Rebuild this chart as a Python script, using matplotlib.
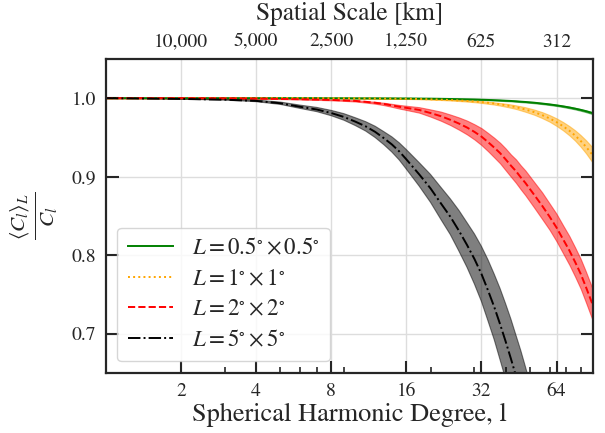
import matplotlib
matplotlib.use('Agg')
import matplotlib.pyplot as plt
import numpy as np
from matplotlib.ticker import FixedLocator, FixedFormatter, NullFormatter, NullLocator, LogLocator

plt.rcParams['font.family'] = 'STIXGeneral'
plt.rcParams['mathtext.fontset'] = 'stix'
plt.rcParams['text.color'] = '#262626'
plt.rcParams['axes.labelcolor'] = '#262626'
plt.rcParams['xtick.color'] = '#262626'
plt.rcParams['ytick.color'] = '#262626'

# spherical harmonic degrees where the curves were read
ell = [1, 2, 3, 4, 5, 6, 7, 8, 9, 10, 11, 12, 13, 14, 15, 16,
       18, 20, 22, 24, 26, 28, 30, 32, 34, 36, 38, 40, 42, 44, 46, 48,
       52, 56, 60, 64, 68, 72, 76, 80, 84, 89]

# mean ratio <C_l>_L / C_l and half-width of the shaded spread, per box size
mean_05 = [1.0, 1.0, 1.0, 1.0, 1.0, 1.0, 1.0,
           0.9999, 0.9999, 0.9998, 0.9998, 0.9998, 0.9997, 0.9997, 0.9996, 0.9996,
           0.9994, 0.9993, 0.9991, 0.9989, 0.9987, 0.9985, 0.9983, 0.998, 0.9977, 0.9974,
           0.9971, 0.9967, 0.9964, 0.996, 0.9955, 0.9951,
           0.9942, 0.9931, 0.992, 0.9908, 0.9895, 0.9881, 0.9866, 0.985, 0.9833, 0.981]
band_05 = [0, 0, 0, 0, 0, 0, 0,
           0.0001, 0.0001, 0.0001, 0.0001, 0.0001, 0.0001, 0.0001, 0.0001, 0.0001,
           0.0002, 0.0002, 0.0002, 0.0003, 0.0003, 0.0003, 0.0003, 0.0004, 0.0004, 0.0004,
           0.0005, 0.0005, 0.0005, 0.0006, 0.0006, 0.0006,
           0.0007, 0.0007, 0.0008, 0.0008, 0.0009, 0.001, 0.001, 0.0011, 0.0012, 0.0013]

mean_1 = [1.0, 1.0, 1.0, 1.0, 1.0, 1.0, 1.0,
          0.9999, 0.9998, 0.9998, 0.9997, 0.9996, 0.9995, 0.9994, 0.9993, 0.9992,
          0.9989, 0.9985, 0.9981, 0.9976, 0.997, 0.9964, 0.9957, 0.995, 0.9941, 0.9932,
          0.9921, 0.991, 0.9898, 0.9885, 0.987, 0.9855,
          0.9822, 0.9784, 0.9742, 0.9694, 0.9642, 0.9585, 0.9523, 0.9454, 0.938, 0.928]
band_1 = [0, 0, 0, 0, 0, 0, 0,
          0.0001, 0.0001, 0.0001, 0.0001, 0.0002, 0.0002, 0.0002, 0.0002, 0.0003,
          0.0003, 0.0004, 0.0005, 0.0006, 0.0007, 0.0008, 0.0009, 0.0011, 0.0013, 0.0014,
          0.0016, 0.0019, 0.0021, 0.0023, 0.0026, 0.0029,
          0.0033, 0.0038, 0.0042, 0.0048, 0.0053, 0.0059, 0.0066, 0.0074, 0.0083, 0.0095]

mean_2 = [1.0, 1.0, 0.9998, 0.9995, 0.999, 0.9986, 0.9982,
          0.9977, 0.9971, 0.9965, 0.9953, 0.9941, 0.9926, 0.9908, 0.989, 0.9876,
          0.985, 0.981, 0.977, 0.9724, 0.9676, 0.9626, 0.957, 0.951, 0.944, 0.937,
          0.930, 0.922, 0.914, 0.907, 0.899, 0.892,
          0.877, 0.863, 0.849, 0.835, 0.82, 0.806, 0.791, 0.776, 0.759, 0.738]
band_2 = [0, 0, 0.0001, 0.0001, 0.0002, 0.0003, 0.0004,
          0.0005, 0.0006, 0.0008, 0.001, 0.0012, 0.0015, 0.0019, 0.0023, 0.0027,
          0.0035, 0.0046, 0.0058, 0.0067, 0.0078, 0.0088, 0.0097, 0.0108, 0.0116, 0.0125,
          0.0131, 0.0139, 0.0142, 0.015, 0.0153, 0.0158,
          0.0163, 0.017, 0.0168, 0.0175, 0.0178, 0.0183, 0.0186, 0.019, 0.0196, 0.02]

mean_5 = [1.0, 0.999, 0.998, 0.9965, 0.9935, 0.989, 0.9855,
          0.981, 0.976, 0.970, 0.964, 0.957, 0.949, 0.941, 0.932, 0.922,
          0.903, 0.885, 0.866, 0.849, 0.831, 0.813, 0.795, 0.776, 0.755, 0.734,
          0.712, 0.690, 0.668, 0.646, 0.624, 0.602,
          0.56, 0.52, 0.48, 0.44, 0.41, 0.38, 0.35, 0.32, 0.29, 0.26]
band_5 = [0, 0.0003, 0.0006, 0.001, 0.0015, 0.0021, 0.0027,
          0.0034, 0.0042, 0.005, 0.006, 0.0072, 0.0083, 0.0097, 0.011, 0.0125,
          0.015, 0.0178, 0.0205, 0.0228, 0.026, 0.0285, 0.032, 0.0352, 0.039, 0.0418,
          0.0455, 0.048, 0.0505, 0.052, 0.0545, 0.056,
          0.058, 0.06, 0.062, 0.064, 0.066, 0.068, 0.07, 0.072, 0.074, 0.076]

labels = [r'$L = 0.5^{\circ} \times 0.5^{\circ}$', r'$L = 1^{\circ} \times 1^{\circ}$',
          r'$L = 2^{\circ} \times 2^{\circ}$', r'$L = 5^{\circ} \times 5^{\circ}$']
colors = ['green', 'orange', 'red', 'black']
styles = ['-', ':', '--', '-.']

major_l = [2, 4, 8, 16, 32, 64]
scale_labels = ['10,000', '5,000', '2,500', '1,250', '625', '312']

fig, ax = plt.subplots(figsize=(6.05, 4.33), dpi=100)
fig.subplots_adjust(left=0.175, right=0.980, bottom=0.139, top=0.864)

ell_arr = np.array(ell)
for m, b, c, s, lab in zip([mean_05, mean_1, mean_2, mean_5],
                           [band_05, band_1, band_2, band_5],
                           colors, styles, labels):
    m = np.array(m)
    b = np.array(b)
    ax.fill_between(ell_arr, m - b, m + b, color=c, alpha=0.5, lw=0.8)
    ax.plot(ell_arr, m, color=c, ls=s, lw=1.4, label=lab)

ax.set_xscale('log')
ax.set_xlim(1, 89.5)
ax.set_ylim(0.65, 1.05)
ax.xaxis.set_major_locator(FixedLocator(major_l))
ax.xaxis.set_major_formatter(FixedFormatter([str(v) for v in major_l]))
ax.xaxis.set_minor_locator(LogLocator(base=10, subs='auto'))
ax.xaxis.set_minor_formatter(NullFormatter())
ax.set_yticks([0.7, 0.8, 0.9, 1.0])

ax.grid(True, which='major', color='#dddddd', lw=1.0)
ax.set_axisbelow(True)
ax.tick_params(which='major', direction='in', length=9, width=1.5, labelsize=14,
               left=True, right=True, bottom=True, top=False, pad=7)
ax.tick_params(which='minor', direction='in', length=4.5, width=1.2,
               bottom=True, top=False)
ax.tick_params(axis='y', which='minor', left=False, right=False)
for sp in ax.spines.values():
    sp.set_linewidth(1.6)
    sp.set_color('#262626')

ax.set_xlabel('Spherical Harmonic Degree, l', fontsize=19, labelpad=2)
ax.set_ylabel(r'$\frac{\langle C_l \rangle_L}{C_l}$', fontsize=22, labelpad=8)

# top axis: spatial scale
ax2 = ax.twiny()
ax2.set_xscale('log')
ax2.set_xlim(ax.get_xlim())
ax2.xaxis.set_major_locator(FixedLocator(major_l))
ax2.xaxis.set_major_formatter(FixedFormatter(scale_labels))
ax2.xaxis.set_minor_locator(NullLocator())
ax2.tick_params(axis='x', length=0, labelsize=14, pad=6)
ax2.set_xlabel('Spatial Scale [km]', fontsize=18.3, labelpad=10)
for sp in ax2.spines.values():
    sp.set_visible(False)

ax.legend(loc='lower left', fontsize=16.5, frameon=True, fancybox=True,
          framealpha=0.8, edgecolor='#cccccc', labelspacing=0.4, borderpad=0.45)

plt.savefig('out.png', dpi=100)
plt.close()
